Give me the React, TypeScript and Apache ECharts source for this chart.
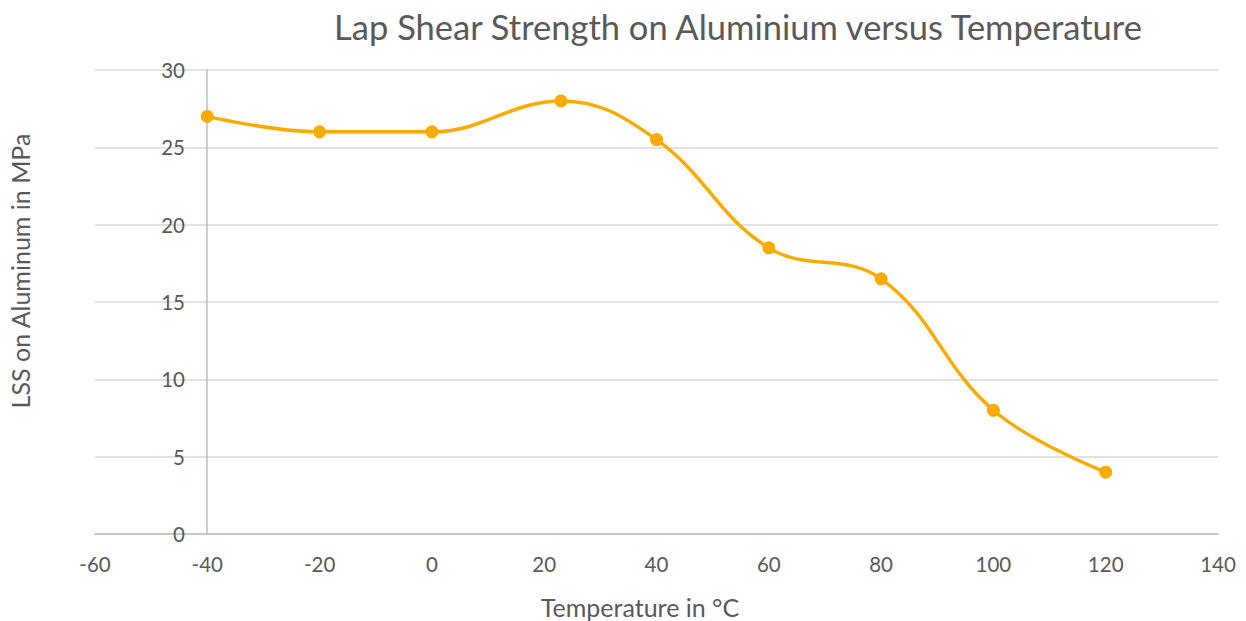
import React, { useEffect, useRef } from "react";
import * as echarts from "echarts";

const temperatures = [-40, -20, 0, 23, 40, 60, 80, 100, 120];
const lssValues = [27, 26, 26, 28, 25.5, 18.5, 16.5, 8, 4];
const titleText = "Lap Shear Strength on Aluminium versus Temperature";
const xAxisName = "Temperature in °C";
const yAxisName = "LSS on Aluminum in MPa";

const FONT = "Lato, 'Noto Sans', sans-serif";
const TEXT = "#595959";

export default function App() {
  const ref = useRef<HTMLDivElement>(null);
  useEffect(() => {
    document.body.style.margin = "0";
    const chart = echarts.init(ref.current!, null, { renderer: "svg" });
    const data = temperatures.map((t, i) => [t, lssValues[i]]);
    chart.setOption({
      animation: false,
      backgroundColor: "#ffffff",
      textStyle: { fontFamily: FONT },
      title: {
        text: titleText,
        left: 733,
        top: 4,
        textAlign: "center",
        textStyle: { fontFamily: FONT, fontSize: 34.5, fontWeight: "normal", color: TEXT },
      },
      grid: { left: 95, right: 28, top: 70, bottom: 87, containLabel: false },
      xAxis: {
        type: "value",
        min: -60,
        max: 140,
        interval: 20,
        axisLine: { show: true, onZero: false, lineStyle: { color: "#bfbfbf", width: 1.5 } },
        axisTick: { show: false },
        splitLine: { show: false },
        axisLabel: { color: TEXT, fontSize: 20.5, margin: 19, fontFamily: FONT },
      },
      yAxis: {
        type: "value",
        min: 0,
        max: 30,
        interval: 5,
        offset: -112,
        axisLine: { show: true, onZero: false, lineStyle: { color: "#bfbfbf", width: 1.5 } },
        axisTick: { show: false },
        splitLine: { show: true, lineStyle: { color: "#d9d9d9", width: 1.5 } },
        axisLabel: { color: TEXT, fontSize: 20.5, margin: 22, fontFamily: FONT },
      },
      graphic: [
        {
          type: "text",
          x: 640,
          y: 607,
          style: {
            text: xAxisName,
            fill: TEXT,
            font: `25px ${FONT}`,
            textAlign: "center",
            textVerticalAlign: "middle",
          },
        },
        {
          type: "text",
          x: 20,
          y: 271,
          rotation: Math.PI / 2,
          style: {
            text: yAxisName,
            fill: TEXT,
            font: `25px ${FONT}`,
            textAlign: "center",
            textVerticalAlign: "middle",
          },
        },
      ],
      series: [
        {
          type: "line",
          data,
          smooth: 0.4,
          symbol: "circle",
          symbolSize: 13,
          lineStyle: { color: "#F9AB00", width: 3.5 },
          itemStyle: { color: "#F9AB00" },
        },
      ],
    });
    return () => chart.dispose();
  }, []);
  return <div ref={ref} style={{ width: 1246, height: 621 }} />;
}
